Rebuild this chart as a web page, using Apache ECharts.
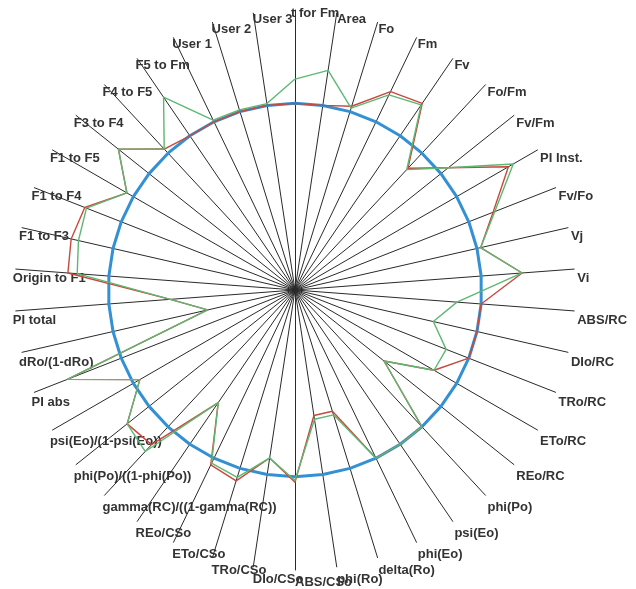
<!DOCTYPE html>
<html>
<head>
<meta charset="utf-8">
<script src="https://cdn.jsdelivr.net/npm/echarts@6/dist/echarts.min.js"></script>
<style>
  html, body { margin: 0; padding: 0; background: #ffffff; }
  #chart { width: 636px; height: 589px; }
</style>
</head>
<body>
<div id="chart"></div>
<script>
// Fluorescence (JIP-test) parameters, clockwise from the top spoke
const parameters = [
  't for Fm', 'Area', 'Fo', 'Fm', 'Fv', 'Fo/Fm', 'Fv/Fm', 'PI Inst.', 'Fv/Fo', 'Vj', 'Vi',
  'ABS/RC', 'DIo/RC', 'TRo/RC', 'ETo/RC', 'REo/RC', 'phi(Po)', 'psi(Eo)', 'phi(Eo)',
  'delta(Ro)', 'phi(Ro)', 'ABS/CSo', 'DIo/CSo', 'TRo/CSo', 'ETo/CSo', 'REo/CSo',
  'gamma(RC)/((1-gamma(RC))', 'phi(Po)/((1-phi(Po))', 'psi(Eo)/(1-psi(Eo))', 'PI abs',
  'dRo/(1-dRo)', 'PI total', 'Origin to F1', 'F1 to F3', 'F1 to F4', 'F1 to F5',
  'F3 to F4', 'F4 to F5', 'F5 to Fm', 'User 1', 'User 2', 'User 3'
];

// Control (normalised to 1)
const controlValues = [
  1, 1, 1, 1, 1, 1, 1, 1, 1, 1, 1,
  1, 1, 1, 1, 1, 1, 1, 1,
  1, 1, 1, 1, 1, 1, 1,
  1, 1, 1, 1,
  1, 1, 1, 1, 1, 1,
  1, 1, 1, 1, 1, 1
];

// Treatment A (red)
const treatmentA = [
  1.00, 1.00, 1.03, 1.18, 1.21, 0.89, 1.05, 1.32, 1.14, 1.02, 1.22,
  1.00, 1.00, 1.00, 0.86, 0.61, 1.00, 1.00, 1.00,
  0.68, 0.68, 1.03, 0.91, 1.07, 1.04, 0.73,
  1.13, 1.15, 0.96, 1.31,
  0.48, 0.67, 1.22, 1.23, 1.21, 1.04,
  1.21, 1.03, 1.00, 1.00, 1.00, 1.00
];

// Treatment B (green)
const treatmentB = [
  1.13, 1.19, 1.02, 1.16, 1.20, 0.88, 1.05, 1.35, 1.15, 1.02, 1.22,
  0.87, 0.76, 0.87, 0.86, 0.61, 1.00, 1.00, 1.00,
  0.70, 0.70, 1.02, 0.91, 1.05, 1.03, 0.73,
  1.18, 1.15, 0.96, 1.31,
  0.48, 0.67, 1.17, 1.19, 1.20, 1.04,
  1.21, 1.03, 1.25, 1.01, 1.01, 1.01
];

const AXIS_MAX = 1.5;

// ECharts lays radar indicators out counter-clockwise; keep the first
// spoke at the top and walk the rest backwards so they run clockwise.
const order = [0];
for (let i = parameters.length - 1; i >= 1; i--) order.push(i);
const pick = function (arr) { return order.map(function (i) { return arr[i]; }); };

const chart = echarts.init(document.getElementById('chart'), null, { renderer: 'canvas' });

chart.setOption({
  animation: false,
  backgroundColor: '#ffffff',
  radar: {
    center: [295, 290],
    radius: 280,
    startAngle: 90,
    splitNumber: 1,
    nameGap: 3,
    indicator: pick(parameters).map(function (name) { return { name: name, min: 0, max: AXIS_MAX }; }),
    axisName: {
      color: '#333333',
      fontFamily: 'Liberation Sans, Arial, sans-serif',
      fontWeight: 'bold',
      fontSize: 13,
      lineHeight: 19,
      align: 'left',
      verticalAlign: 'top',
      formatter: function (name) {
        return name === 't for Fm' ? '{top|' + name + '}' : name;
      },
      rich: {
        top: {
          color: '#333333',
          fontFamily: 'Liberation Sans, Arial, sans-serif',
          fontWeight: 'bold',
          fontSize: 13,
          lineHeight: 19,
          padding: [-6, 0, 0, -4]
        }
      }
    },
    axisLine: { lineStyle: { color: '#2a2a2a', width: 1 } },
    axisTick: { show: false },
    axisLabel: { show: false },
    splitLine: { show: false },
    splitArea: { show: false }
  },
  series: [{
    type: 'radar',
    silent: true,
    symbol: 'none',
    data: [
      { name: 'Control', value: pick(controlValues), lineStyle: { color: '#3390d3', width: 3 } },
      { name: 'Treatment A', value: pick(treatmentA), lineStyle: { color: '#c9483c', width: 1.4 } },
      { name: 'Treatment B', value: pick(treatmentB), lineStyle: { color: '#5cb872', width: 1.4 } }
    ]
  }]
});
</script>
</body>
</html>
